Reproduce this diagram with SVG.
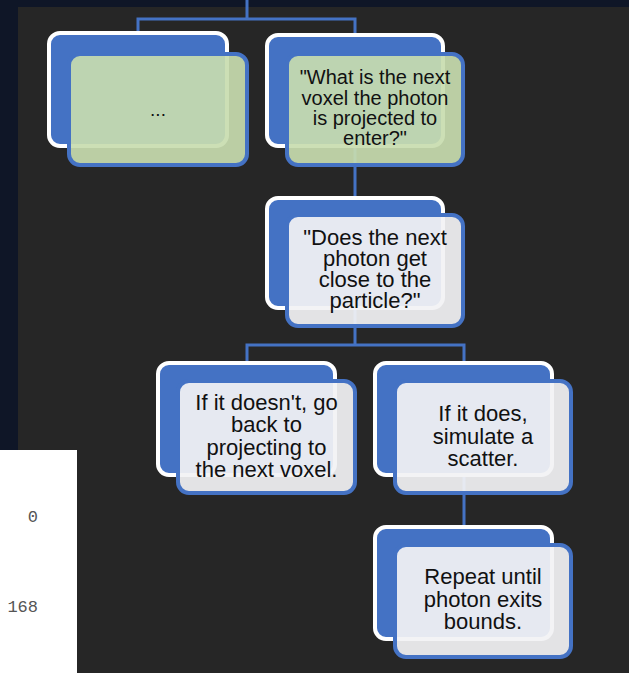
<svg xmlns="http://www.w3.org/2000/svg" width="629" height="673" viewBox="0 0 629 673">
<style>
.back{fill:#4472c4;stroke:#ffffff;stroke-width:4}
.fg{fill:#c8dcaf;fill-opacity:0.92;stroke:#4472c4;stroke-width:4}
.fw{fill:#f2f2f4;fill-opacity:0.93;stroke:#4472c4;stroke-width:4}
.conn{fill:none;stroke:#4472c4;stroke-width:3}
.t{font-family:"Liberation Sans",Arial,sans-serif;fill:#111;text-anchor:middle}
.num{font-family:"Liberation Mono","Courier New",monospace;font-size:17px;fill:#555;text-anchor:end}
</style>
<rect x="0" y="0" width="629" height="673" fill="#0f1627"/>
<rect x="18" y="7" width="611" height="666" fill="#262626"/>
<g id="sidebar">
<rect x="0" y="450" width="77" height="223" fill="#ffffff"/>
<text class="num" x="38" y="522">0</text>
<text class="num" x="38" y="612">168</text>
</g>
<g id="connectors">
<path class="conn" d="M247,0 V19"/>
<path class="conn" d="M138,33 V19 H355 V33"/>
<path class="conn" d="M355,148 V196"/>
<path class="conn" d="M355,310 V345"/>
<path class="conn" d="M247,361 V345 H464 V361"/>
<path class="conn" d="M464,477 V525"/>
</g>
<g id="nodeA">
<rect class="back" x="49" y="33" width="178" height="113" rx="11"/>
<rect class="fg" x="69" y="54" width="178" height="111" rx="11"/>
<text class="t" x="158" y="116" font-size="19">...</text>
</g>
<g id="nodeB">
<rect class="back" x="267" y="35" width="176" height="111" rx="11"/>
<rect class="fg" x="287" y="54" width="176" height="111" rx="11"/>
<text class="t" font-size="20"><tspan x="375" y="84">"What is the next</tspan><tspan x="375" y="104.5">voxel the photon</tspan><tspan x="375" y="125">is projected to</tspan><tspan x="375" y="145">enter?"</tspan></text>
</g>
<g id="nodeC">
<rect class="back" x="267" y="198" width="176" height="110" rx="11"/>
<rect class="fw" x="287" y="215" width="176" height="111" rx="11"/>
<text class="t" font-size="22"><tspan x="375" y="245">"Does the next</tspan><tspan x="375" y="266">photon get</tspan><tspan x="375" y="287">close to the</tspan><tspan x="375" y="308">particle?"</tspan></text>
</g>
<g id="nodeD">
<rect class="back" x="158" y="363" width="177" height="112" rx="11"/>
<rect class="fw" x="178" y="381" width="177" height="112" rx="11"/>
<text class="t" font-size="22"><tspan x="266.5" y="410">If it doesn't, go</tspan><tspan x="266.5" y="432.3">back to</tspan><tspan x="266.5" y="454.7">projecting to</tspan><tspan x="266.5" y="477">the next voxel.</tspan></text>
</g>
<g id="nodeE">
<rect class="back" x="375" y="363" width="177" height="112" rx="11"/>
<rect class="fw" x="395" y="381" width="176" height="112" rx="11"/>
<text class="t" font-size="22"><tspan x="483" y="421">If it does,</tspan><tspan x="483" y="443.5">simulate a</tspan><tspan x="483" y="466">scatter.</tspan></text>
</g>
<g id="nodeF">
<rect class="back" x="375" y="527" width="177" height="112" rx="11"/>
<rect class="fw" x="395" y="545" width="176" height="112" rx="11"/>
<text class="t" font-size="22"><tspan x="483" y="584">Repeat until</tspan><tspan x="483" y="606.5">photon exits</tspan><tspan x="483" y="629">bounds.</tspan></text>
</g>
</svg>
